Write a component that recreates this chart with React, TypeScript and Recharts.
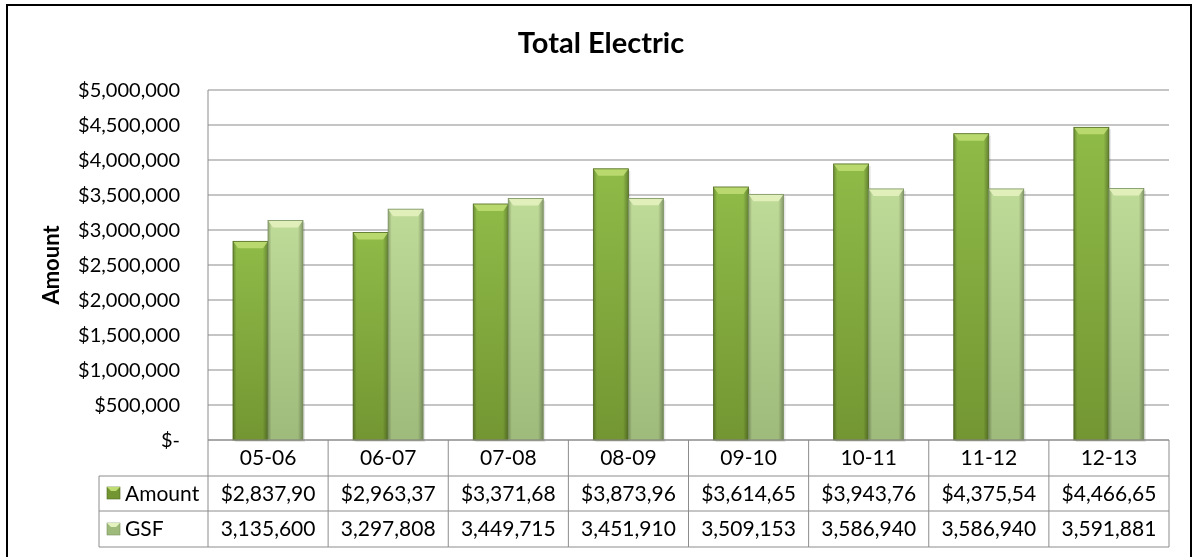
import { BarChart, Bar, XAxis, YAxis, CartesianGrid } from "recharts";

const categories = ["05-06", "06-07", "07-08", "08-09", "09-10", "10-11", "11-12", "12-13"];
const amountValues = [2837900, 2963370, 3371680, 3873960, 3614650, 3943760, 4375540, 4466650];
const gsfValues = [3135600, 3297808, 3449715, 3451910, 3509153, 3586940, 3586940, 3591881];
const yTicks = [0, 500000, 1000000, 1500000, 2000000, 2500000, 3000000, 3500000, 4000000, 4500000, 5000000];
const seriesNames = ["Amount", "GSF"];

const data = categories.map((period, i) => ({
  period,
  amount: amountValues[i],
  gsf: gsfValues[i],
}));

const W = 1195;
const H = 557;
const MARGIN = { top: 90, right: 26, bottom: 10, left: 30 };
const Y_AXIS_W = 178;
const X_AXIS_H = 107;
const PLOT_LEFT = MARGIN.left + Y_AXIS_W;
const PLOT_W = W - PLOT_LEFT - MARGIN.right;
const FONT = "Lato, 'Open Sans', sans-serif";
const GRID = "#8c8c8c";
const ROWS = [36, 35, 36];

const fmtMoney = (v: number) => (v === 0 ? "$-" : "$" + v.toLocaleString("en-US"));
const fmtNum = (v: number) => v.toLocaleString("en-US");
// excel drops the last digit when the amount doesn't fit the table cell
const cellMoney = (v: number) => fmtMoney(v).slice(0, -1);

const palettes: Record<string, { top: string; bottom: string; bevel: string; edge: string }> = {
  amount: { top: "#8fbb48", bottom: "#739632", bevel: "#bedc72", edge: "#4f6a1f" },
  gsf: { top: "#bfdb98", bottom: "#9fbb7b", bevel: "#e4f2bf", edge: "#7a9160" },
};

function makeBarShape(key: string) {
  const p = palettes[key];
  return (props: any) => {
    const { x, y, width, height, index } = props;
    if (!height || height <= 0) return null;
    const id = `${key}-${index}`;
    const b = Math.min(7, height);
    return (
      <g>
        <defs>
          <linearGradient id={`v-${id}`} x1="0" y1="0" x2="0" y2="1">
            <stop offset="0%" stopColor={p.top} />
            <stop offset="100%" stopColor={p.bottom} />
          </linearGradient>
          <linearGradient id={`h-${id}`} x1="0" y1="0" x2="1" y2="0">
            <stop offset="0%" stopColor="#000" stopOpacity={0.25} />
            <stop offset="10%" stopColor="#000" stopOpacity={0} />
            <stop offset="85%" stopColor="#000" stopOpacity={0} />
            <stop offset="100%" stopColor="#000" stopOpacity={0.3} />
          </linearGradient>
        </defs>
        <rect x={x + 2} y={y + 2} width={width} height={height} fill="#000" opacity={0.1} />
        <rect x={x} y={y} width={width} height={height} fill={`url(#v-${id})`} />
        <rect x={x} y={y} width={width} height={height} fill={`url(#h-${id})`} />
        <polygon
          points={`${x},${y} ${x + width},${y} ${x + width - 5},${y + b} ${x + 5},${y + b}`}
          fill={p.bevel}
          opacity={0.9}
        />
        <rect x={x} y={y} width={width} height={height} fill="none" stroke={p.edge} strokeWidth={0.8} />
      </g>
    );
  };
}

function LegendKey({ x, y, k }: { x: number; y: number; k: string }) {
  const p = palettes[k];
  return (
    <g>
      <rect x={x} y={y} width={13} height={12} fill={p.bottom} stroke={p.edge} strokeWidth={0.6} />
      <polygon points={`${x},${y} ${x + 13},${y} ${x + 9},${y + 4} ${x + 4},${y + 4}`} fill={p.bevel} />
    </g>
  );
}

function TableTick(props: any) {
  const { x, y, payload } = props;
  const i = payload.index;
  const band = PLOT_W / categories.length;
  const left = x - band / 2;
  const right = x + band / 2;
  const r1 = y + ROWS[0];
  const r2 = r1 + ROWS[1];
  const r3 = r2 + ROWS[2];
  const txt = { fontFamily: FONT, fontSize: 21, fill: "#000", textAnchor: "middle" as const };
  return (
    <g>
      <line x1={left} y1={y} x2={left} y2={r3} stroke={GRID} />
      {i === categories.length - 1 && <line x1={right} y1={y} x2={right} y2={r3} stroke={GRID} />}
      <line x1={left} y1={r1} x2={right} y2={r1} stroke={GRID} />
      <line x1={left} y1={r2} x2={right} y2={r2} stroke={GRID} />
      <line x1={left} y1={r3} x2={right} y2={r3} stroke={GRID} />
      <text {...txt} x={x} y={y + ROWS[0] / 2 + 7}>{payload.value}</text>
      <text {...txt} x={x} y={r1 + ROWS[1] / 2 + 7}>{cellMoney(amountValues[i])}</text>
      <text {...txt} x={x} y={r2 + ROWS[2] / 2 + 7}>{fmtNum(gsfValues[i])}</text>
      {i === 0 && (
        <g>
          <line x1={99} y1={r1} x2={left} y2={r1} stroke={GRID} />
          <line x1={99} y1={r2} x2={left} y2={r2} stroke={GRID} />
          <line x1={99} y1={r3} x2={left} y2={r3} stroke={GRID} />
          <line x1={99} y1={r1} x2={99} y2={r3} stroke={GRID} />
          <LegendKey x={107} y={r1 + 11} k="amount" />
          <LegendKey x={107} y={r2 + 12} k="gsf" />
          <text {...txt} textAnchor="start" x={125} y={r1 + ROWS[1] / 2 + 7}>{seriesNames[0]}</text>
          <text {...txt} textAnchor="start" x={125} y={r2 + ROWS[2] / 2 + 7}>{seriesNames[1]}</text>
        </g>
      )}
    </g>
  );
}

function AxisTitle(props: any) {
  const { viewBox } = props;
  const cx = viewBox.x + 20;
  const cy = viewBox.y + viewBox.height / 2;
  return (
    <text
      x={cx}
      y={cy}
      transform={`rotate(-90 ${cx} ${cy})`}
      textAnchor="middle"
      dominantBaseline="central"
      style={{ fontFamily: FONT, fontSize: 22, fontWeight: 700, fill: "#000" }}
    >
      Amount
    </text>
  );
}

export default function App() {
  return (
    <div style={{ position: "absolute", left: 0, top: 0, width: W, height: H, background: "#fff" }}>
      <div
        style={{
          position: "fixed",
          left: 6,
          top: 4,
          width: 1186,
          height: 620,
          border: "2px solid #000",
          boxSizing: "border-box",
          pointerEvents: "none",
        }}
      />
      <div
        style={{
          position: "absolute",
          left: 0,
          top: 26,
          width: 1202,
          textAlign: "center",
          fontFamily: FONT,
          fontSize: 29,
          fontWeight: 700,
          lineHeight: "32px",
          color: "#000",
        }}
      >
        Total Electric
      </div>
      <BarChart width={W} height={H} data={data} margin={MARGIN} barGap={0} barSize={35}>
        <CartesianGrid vertical={false} stroke={GRID} strokeWidth={1.2} />
        <XAxis
          dataKey="period"
          height={X_AXIS_H}
          interval={0}
          tickLine={false}
          tickSize={0}
          tickMargin={0}
          axisLine={{ stroke: GRID }}
          tick={<TableTick />}
        />
        <YAxis
          width={Y_AXIS_W}
          domain={[0, 5000000]}
          ticks={yTicks}
          interval={0}
          tickLine={false}
          tickSize={0}
          tickMargin={28}
          axisLine={{ stroke: GRID }}
          tickFormatter={fmtMoney}
          tick={{ fontFamily: FONT, fontSize: 20, fill: "#000" }}
          label={<AxisTitle />}
        />
        <Bar dataKey="amount" name={seriesNames[0]} shape={makeBarShape("amount")} isAnimationActive={false} />
        <Bar dataKey="gsf" name={seriesNames[1]} shape={makeBarShape("gsf")} isAnimationActive={false} />
      </BarChart>
    </div>
  );
}
